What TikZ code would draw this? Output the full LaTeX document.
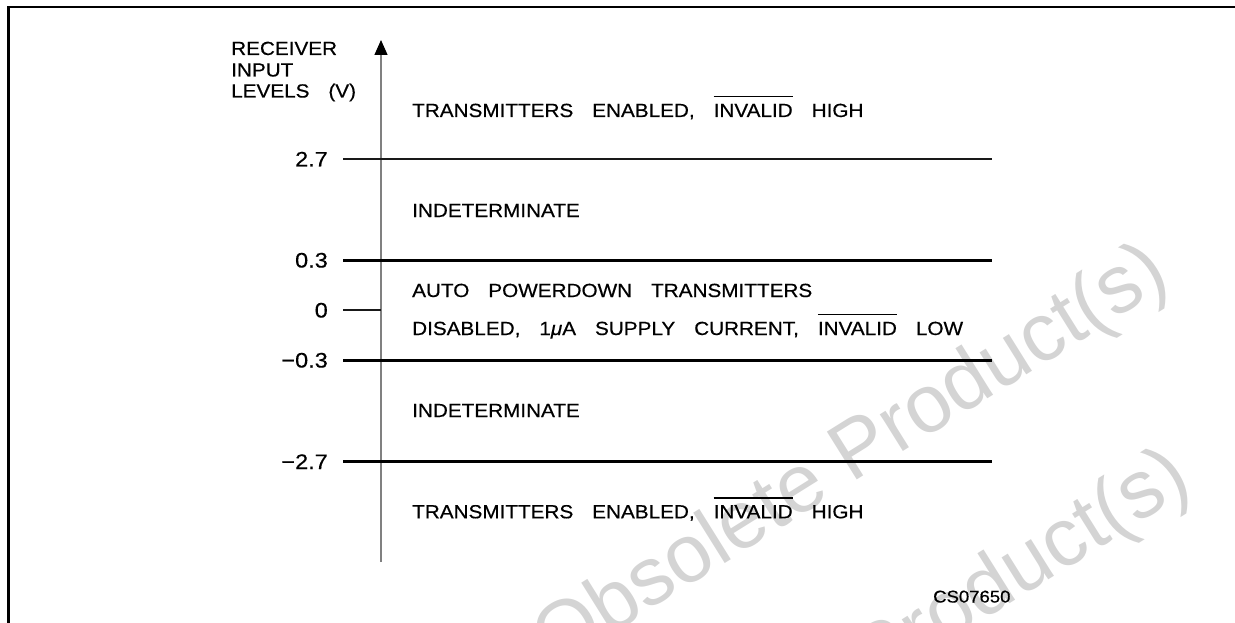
\documentclass[tikz,border=0pt]{standalone}
\usepackage{fontspec}
\usetikzlibrary{arrows.meta}
\newfontfamily\pf[FakeStretch=1.09,WordSpace=3.3,FakeBold=0.5]{Liberation Sans}
\newfontfamily\lf[FakeStretch=1.12,FakeBold=0.4]{Liberation Sans}
\newfontfamily\wmfont{Liberation Sans}
\newcommand\ovlbar[1]{\vbox{\hrule height 1.3pt\vskip 6.5pt\hbox{#1}}}
\tikzset{
  txt/.style={inner sep=0pt, anchor=base west, font=\pf\fontsize{19}{22}\selectfont},
  lbl/.style={inner sep=0pt, anchor=base east, font=\lf\fontsize{21}{24}\selectfont},
  code/.style={inner sep=0pt, anchor=base west, font=\pf\fontsize{17}{19}\selectfont},
  wm/.style={inner sep=0pt, anchor=base west, rotate=32, text=black!17, font=\wmfont\fontsize{82}{90}\selectfont},
  heavy level/.style={line width=3pt, black},
  light level/.style={line width=1.7pt, black!90},
  axisline/.style={line width=1.3pt, black!50},
  framerule/.style={line width=2.5pt, black, line join=miter},
}
\begin{document}
\begin{tikzpicture}[x=1pt,y=-1pt]
\useasboundingbox (0,0) rectangle (1235,623);
% watermark
\begin{scope}
  \clip (0,0) rectangle (1235,623);
  \node[wm] (wmA) at (554,670) {Obsolete Product(s)};
  \node[wm] (wmB) at (576,875) {Obsolete Product(s)};
\end{scope}
% frame
\coordinate (fbl) at (8.7,623);
\coordinate (ftl) at (8.7,7);
\coordinate (ftr) at (1235,7);
\draw[framerule] (fbl) -- (ftl) -- (ftr);
% axis
\coordinate (axb) at (381,562);
\coordinate (axt) at (381,40);
\draw[axisline, -{Triangle[length=15pt,width=13pt,color=black]}] (axb) -- (axt);
% level lines
\coordinate (a1) at (343,159.3); \coordinate (b1) at (992,159.3);
\coordinate (a2) at (343,260.5); \coordinate (b2) at (992,260.5);
\coordinate (a3) at (343,310);   \coordinate (b3) at (381,310);
\coordinate (a4) at (343,360.5); \coordinate (b4) at (992,360.5);
\coordinate (a5) at (343,461.5); \coordinate (b5) at (992,461.5);
\draw[light level] (a1) -- (b1);
\draw[heavy level] (a2) -- (b2);
\draw[light level] (a3) -- (b3);
\draw[heavy level] (a4) -- (b4);
\draw[heavy level] (a5) -- (b5);
% axis title
\node[txt] (t1) at (231,55) {RECEIVER};
\node[txt] (t2) at (231,76.5) {INPUT};
\node[txt] (t3) at (231,97.5) {LEVELS (V)};
% level labels
\node[lbl] (v1) at (328,166.5) {2.7};
\node[lbl] (v2) at (328,267.5) {0.3};
\node[lbl] (v3) at (328,317.5) {0};
\node[lbl] (v4) at (328,367.5) {−0.3};
\node[lbl] (v5) at (328,469) {−2.7};
% region texts
\node[txt] (r1) at (412,117) {TRANSMITTERS ENABLED, \ovlbar{INVALID} HIGH};
\node[txt] (r2) at (412,217) {INDETERMINATE};
\node[txt] (r3) at (412,297) {AUTO POWERDOWN TRANSMITTERS};
\node[txt] (r4) at (412,335) {DISABLED, 1{\itshape μ}A SUPPLY CURRENT, \ovlbar{INVALID} LOW};
\node[txt] (r5) at (412,417) {INDETERMINATE};
\node[txt] (r6) at (412,518.3) {TRANSMITTERS ENABLED, \ovlbar{INVALID} HIGH};
% code
\node[code] (cs) at (933,602.5) {CS07650};
\end{tikzpicture}
\end{document}
